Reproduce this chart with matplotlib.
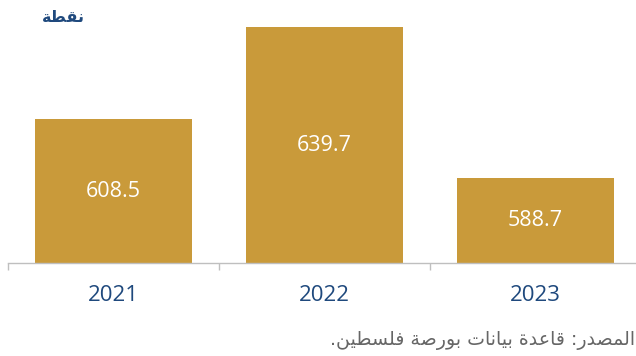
import matplotlib.pyplot as plt

years = ["2021", "2022", "2023"]
points = [608.5, 639.7, 588.7]
unit_label = "نقطة"
source_label = "المصدر: قاعدة بيانات بورصة فلسطين."

# contextual forms (isolated, final, initial, medial) for the Arabic letters used
FORMS = {
    'ا': ('\uFE8D', '\uFE8E', None, None),
    'ب': ('\uFE8F', '\uFE90', '\uFE91', '\uFE92'),
    'ة': ('\uFE93', '\uFE94', None, None),
    'ت': ('\uFE95', '\uFE96', '\uFE97', '\uFE98'),
    'د': ('\uFEA9', '\uFEAA', None, None),
    'ر': ('\uFEAD', '\uFEAE', None, None),
    'س': ('\uFEB1', '\uFEB2', '\uFEB3', '\uFEB4'),
    'ص': ('\uFEB9', '\uFEBA', '\uFEBB', '\uFEBC'),
    'ط': ('\uFEC1', '\uFEC2', '\uFEC3', '\uFEC4'),
    'ع': ('\uFEC9', '\uFECA', '\uFECB', '\uFECC'),
    'ف': ('\uFED1', '\uFED2', '\uFED3', '\uFED4'),
    'ق': ('\uFED5', '\uFED6', '\uFED7', '\uFED8'),
    'ل': ('\uFEDD', '\uFEDE', '\uFEDF', '\uFEE0'),
    'م': ('\uFEE1', '\uFEE2', '\uFEE3', '\uFEE4'),
    'ن': ('\uFEE5', '\uFEE6', '\uFEE7', '\uFEE8'),
    'و': ('\uFEED', '\uFEEE', None, None),
    'ي': ('\uFEF1', '\uFEF2', '\uFEF3', '\uFEF4'),
}


def shape(text):
    # join letters and put them in visual (right-to-left) order
    out = []
    for i, ch in enumerate(text):
        if ch not in FORMS:
            out.append(ch)
            continue
        prev = text[i - 1] if i > 0 else ''
        nxt = text[i + 1] if i + 1 < len(text) else ''
        join_prev = prev in FORMS and FORMS[prev][2] is not None
        join_next = FORMS[ch][2] is not None and nxt in FORMS
        iso, fin, ini, med = FORMS[ch]
        if join_prev and join_next:
            out.append(med)
        elif join_prev:
            out.append(fin)
        elif join_next:
            out.append(ini)
        else:
            out.append(iso)
    return ''.join(reversed(out))


W, H = 636, 356
bar_color = '#C99A3A'
navy = '#1F497D'
ymin = 560

fig = plt.figure(figsize=(W / 100, H / 100), dpi=100)
ax = fig.add_axes([8 / W, 93 / H, 633 / W, 263 / H])

x = range(len(years))
ax.bar(x, points, width=0.745, bottom=0, color=bar_color, zorder=2)
for i, v in zip(x, points):
    ax.text(i, (ymin + v) / 2, f"{v}", ha='center', va='center',
            color='white', fontsize=15.5, family='Open Sans')

ax.set_xlim(-0.5, len(years) - 0.5)
ax.set_ylim(ymin, ymin + 263 / 2.96)
ax.set_xticks(list(x))
ax.set_xticklabels(years, family='Open Sans', fontsize=16, color=navy)
ax.set_xticks([i - 0.5 for i in range(len(years) + 1)], minor=True)
ax.tick_params(axis='x', which='major', length=0, pad=16)
ax.tick_params(axis='x', which='minor', length=5, width=1, color='#BFBFBF')
ax.set_yticks([])
for side in ['top', 'right', 'left']:
    ax.spines[side].set_visible(False)
ax.spines['bottom'].set_color('#BFBFBF')
ax.spines['bottom'].set_linewidth(1)

fig.text(42 / W, 1 - 18 / H, shape(unit_label), ha='left', va='center',
         fontsize=11.5, fontweight='bold', color=navy, family='DejaVu Sans')
fig.text(635 / W, 1 - 340 / H, shape(source_label), ha='right', va='center',
         fontsize=13.6, color='#666666', family='DejaVu Sans')

fig.savefig('out.png', dpi=100)
